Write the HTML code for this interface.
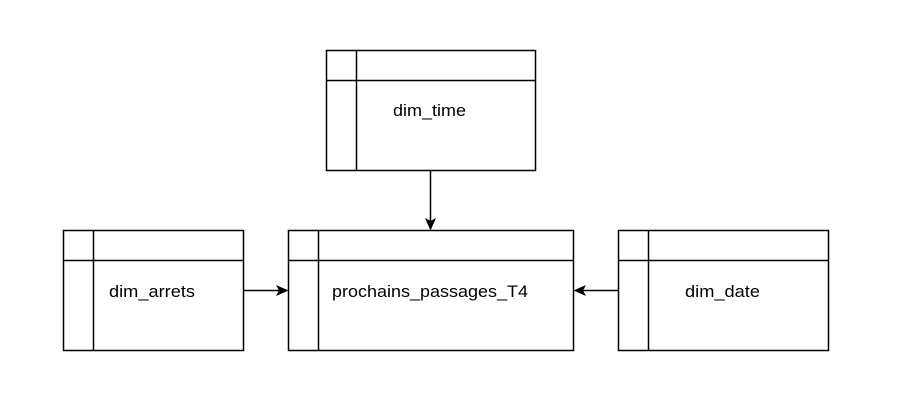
<!DOCTYPE html>
<html><head><style>body{margin:0;background:#fff}svg{display:block}</style></head><body>
<svg width="907" height="409" viewBox="0 0 907 409" xmlns="http://www.w3.org/2000/svg" font-family="Liberation Sans, Arial, sans-serif" font-size="17" fill="#000">
<g fill="none" stroke="#000" stroke-width="1.5">
<rect x="326.5" y="50.5" width="209" height="120"/><line x1="326.5" y1="80.5" x2="535.5" y2="80.5"/><line x1="356.5" y1="50.5" x2="356.5" y2="170.5"/>
<rect x="63.5" y="230.5" width="180" height="120"/><line x1="63.5" y1="260.5" x2="243.5" y2="260.5"/><line x1="93.5" y1="230.5" x2="93.5" y2="350.5"/>
<rect x="288.5" y="230.5" width="285" height="120"/><line x1="288.5" y1="260.5" x2="573.5" y2="260.5"/><line x1="318.5" y1="230.5" x2="318.5" y2="350.5"/>
<rect x="618.5" y="230.5" width="210" height="120"/><line x1="618.5" y1="260.5" x2="828.5" y2="260.5"/><line x1="648.5" y1="230.5" x2="648.5" y2="350.5"/>
<line x1="430.5" y1="170.5" x2="430.5" y2="222"/>
<line x1="243.5" y1="290.5" x2="280" y2="290.5"/>
<line x1="618.5" y1="290.5" x2="582" y2="290.5"/>
</g>
<path d="M430.5 230.5 L425 218 L430.5 221 L436 218 Z"/>
<path d="M288.5 290.5 L276 285 L279 290.5 L276 296 Z"/>
<path d="M573.5 290.5 L586 285 L583 290.5 L586 296 Z"/>
<text x="393" y="116" textLength="73" lengthAdjust="spacingAndGlyphs">dim_time</text>
<text x="109" y="297" textLength="86" lengthAdjust="spacingAndGlyphs">dim_arrets</text>
<text x="332" y="297" textLength="196" lengthAdjust="spacingAndGlyphs">prochains_passages_T4</text>
<text x="685" y="297" textLength="75" lengthAdjust="spacingAndGlyphs">dim_date</text>
</svg>
</body></html>
